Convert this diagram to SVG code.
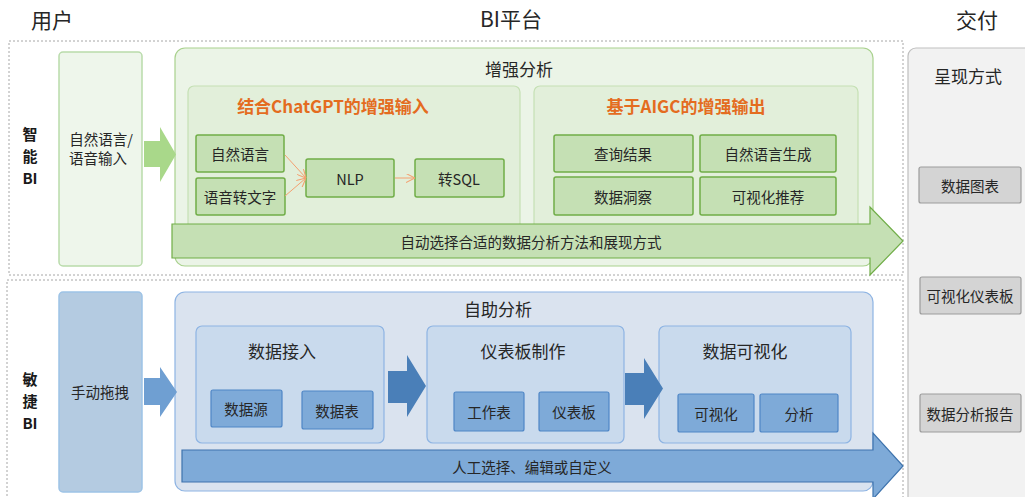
<svg xmlns="http://www.w3.org/2000/svg" width="1025" height="497" viewBox="0 0 1025 497">
<defs>
<style>
text{font-family:"Noto Sans CJK SC","Liberation Sans",sans-serif;fill:#262626;text-anchor:middle;dominant-baseline:central}
.hd{font-size:21px}
.side{font-size:15px;font-weight:bold;fill:#1a1a1a}
.t15{font-size:14.5px}
.t17{font-size:17px}
.or{font-size:17px;font-weight:bold;fill:#e46c1f}
.dash{fill:none;stroke:#a6a6a6;stroke-width:1;stroke-dasharray:2 2}
.gcol{fill:#eef6eb;stroke:#b9dbab;stroke-width:1.5}
.gpanel{fill:#ebf4e7;stroke:#a9d18e;stroke-width:1.2}
.gsec{fill:#e2efda;stroke:#c5e0b4;stroke-width:1.2}
.gbox{fill:#c5e0b4;stroke:#70ad47;stroke-width:1.5}
.garr{fill:#c5e0b4;stroke:#70ad47;stroke-width:1.2}
.bcol{fill:#b4cbe1;stroke:#9dc3e6;stroke-width:1.5}
.bpanel{fill:#dae3ef;stroke:#8eb4e3;stroke-width:1.2}
.bsec{fill:#c9daed;stroke:#8eb4e3;stroke-width:1.2}
.bbox{fill:#7eaad8;stroke:#4f86c6;stroke-width:1.2}
.barr{fill:#7eaad8;stroke:#3e73ad;stroke-width:1.2}
.gray{fill:#f2f2f2;stroke:#bfbfbf;stroke-width:1.2}
.gbtn{fill:#d4d4d4;stroke:#9c9c9c;stroke-width:1.2}
.oline{stroke:#f4a070;stroke-width:1;fill:none;marker-end:url(#oa)}
</style>
<marker id="oa" viewBox="0 0 10 10" refX="10" refY="5" markerWidth="9" markerHeight="9" orient="auto" markerUnits="userSpaceOnUse">
<path d="M0,0 L10,5 L0,10" fill="none" stroke="#f4a070" stroke-width="1.2"/>
</marker>
</defs>

<g id="headers">
<text class="hd" x="52" y="19">用户</text>
<text class="hd" x="511" y="18">BI平台</text>
<text class="hd" x="977" y="19">交付</text>
</g>

<g id="frames">
<rect class="dash" x="9" y="41" width="894" height="234"/>
<rect class="dash" x="7" y="280" width="896" height="220"/>
</g>

<g id="delivery">
<rect class="gray" x="908" y="48" width="130" height="460" rx="8"/>
<text class="t17" x="968" y="75">呈现方式</text>
</g>
<g id="d-chart"><rect class="gbtn" x="919" y="167" width="102" height="36" rx="2"/><text class="t15" x="970" y="185">数据图表</text></g>
<g id="d-dash"><rect class="gbtn" x="920" y="277" width="101" height="37" rx="2"/><text class="t15" x="970" y="295.5">可视化仪表板</text></g>
<g id="d-report"><rect class="gbtn" x="920" y="394" width="101" height="38" rx="2"/><text class="t15" x="970" y="413">数据分析报告</text></g>

<!-- Smart BI -->
<g id="smart-label">
<text class="side" x="30" y="133">智</text>
<text class="side" x="30" y="155">能</text>
<text class="side" x="30" y="177">BI</text>
</g>
<g id="smart-user">
<rect class="gcol" x="59" y="52" width="83" height="214" rx="4"/>
<text class="t15" x="101" y="138">自然语言/</text>
<text class="t15" x="98" y="157">语音输入</text>
</g>

<g id="aug-panel">
<rect class="gpanel" x="175" y="48" width="698" height="218" rx="10"/>
<text class="t17" x="519" y="68">增强分析</text>
</g>
<g id="aug-input">
<rect class="gsec" x="188" y="86" width="332" height="150" rx="6"/>
<text class="or" x="333" y="105">结合ChatGPT的增强输入</text>
</g>
<g id="aug-output">
<rect class="gsec" x="534" y="86" width="324" height="150" rx="6"/>
<text class="or" x="686" y="105">基于AIGC的增强输出</text>
</g>

<g id="n-nl"><rect class="gbox" x="196" y="135" width="88" height="37" rx="2"/><text class="t15" x="240" y="153.5">自然语言</text></g>
<g id="n-voice"><rect class="gbox" x="196" y="178" width="89" height="37" rx="2"/><text class="t15" x="240" y="196.5">语音转文字</text></g>
<g id="n-nlp"><rect class="gbox" x="306" y="159" width="88" height="38" rx="2"/><text class="t15" x="350" y="178">NLP</text></g>
<g id="n-sql"><rect class="gbox" x="415" y="159" width="89" height="38" rx="2"/><text class="t15" x="459" y="178">转SQL</text></g>

<g id="o-query"><rect class="gbox" x="554" y="135" width="139" height="37" rx="2"/><text class="t15" x="623" y="153.5">查询结果</text></g>
<g id="o-nlg"><rect class="gbox" x="700" y="135" width="136" height="37" rx="2"/><text class="t15" x="768" y="153.5">自然语言生成</text></g>
<g id="o-insight"><rect class="gbox" x="554" y="177" width="139" height="38" rx="2"/><text class="t15" x="623" y="196">数据洞察</text></g>
<g id="o-vis"><rect class="gbox" x="700" y="177" width="136" height="38" rx="2"/><text class="t15" x="768" y="196">可视化推荐</text></g>

<!-- Agile BI -->
<g id="agile-label">
<text class="side" x="30" y="378">敏</text>
<text class="side" x="30" y="400">捷</text>
<text class="side" x="30" y="422">BI</text>
</g>
<g id="agile-user">
<rect class="bcol" x="59" y="292" width="83" height="200" rx="4"/>
<text class="t15" x="100" y="391">手动拖拽</text>
</g>
<g id="self-panel">
<rect class="bpanel" x="175" y="292" width="698" height="199" rx="10"/>
<text class="t17" x="498" y="308">自助分析</text>
</g>
<g id="s-ingest">
<rect class="bsec" x="196" y="326" width="188" height="117" rx="6"/>
<text class="t17" x="282" y="350">数据接入</text>
</g>
<g id="b-src"><rect class="bbox" x="211" y="390" width="71" height="37" rx="2"/><text class="t15" x="246" y="408.5">数据源</text></g>
<g id="b-tbl"><rect class="bbox" x="302" y="391" width="71" height="38" rx="2"/><text class="t15" x="337" y="410">数据表</text></g>

<g id="s-dash">
<rect class="bsec" x="427" y="326" width="197" height="117" rx="6"/>
<text class="t17" x="523" y="350">仪表板制作</text>
</g>
<g id="b-ws"><rect class="bbox" x="454" y="392" width="70" height="39" rx="2"/><text class="t15" x="489" y="411.5">工作表</text></g>
<g id="b-db"><rect class="bbox" x="539" y="392" width="70" height="39" rx="2"/><text class="t15" x="574" y="411.5">仪表板</text></g>

<g id="s-vis">
<rect class="bsec" x="659" y="326" width="192" height="117" rx="6"/>
<text class="t17" x="745" y="350">数据可视化</text>
</g>
<g id="b-v"><rect class="bbox" x="678" y="394" width="76" height="38" rx="2"/><text class="t15" x="716" y="413">可视化</text></g>
<g id="b-a"><rect class="bbox" x="760" y="394" width="78" height="38" rx="2"/><text class="t15" x="799" y="413">分析</text></g>

<g id="connectors">
<path d="M144,141 H160 V127 L176,154.5 L160,182 V167 H144 Z" fill="#a9d88a"/>
<line class="oline" x1="285" y1="155" x2="306" y2="178"/>
<line class="oline" x1="285" y1="196" x2="306" y2="178"/>
<line class="oline" x1="395" y1="178" x2="415" y2="178"/>
<path class="garr" d="M172,224 H870 V207 L903,241 L870,275 V258 H172 Z"/>
<text class="t15" x="531" y="241">自动选择合适的数据分析方法和展现方式</text>

<path d="M144,378 H160 V367 L177,392 L160,417 V405 H144 Z" fill="#6f9fd2"/>
<path d="M388,371 H407 V355 L426,386 L407,417 V403 H388 Z" fill="#4a7fb8"/>
<path d="M625,373 H644 V358 L663,388.5 L644,419 V405 H625 Z" fill="#4a7fb8"/>
<path class="barr" d="M182,450 H873 V433 L903,466 L873,499 V482 H182 Z"/>
<text class="t15" x="532" y="466">人工选择、编辑或自定义</text>
</g>
</svg>
